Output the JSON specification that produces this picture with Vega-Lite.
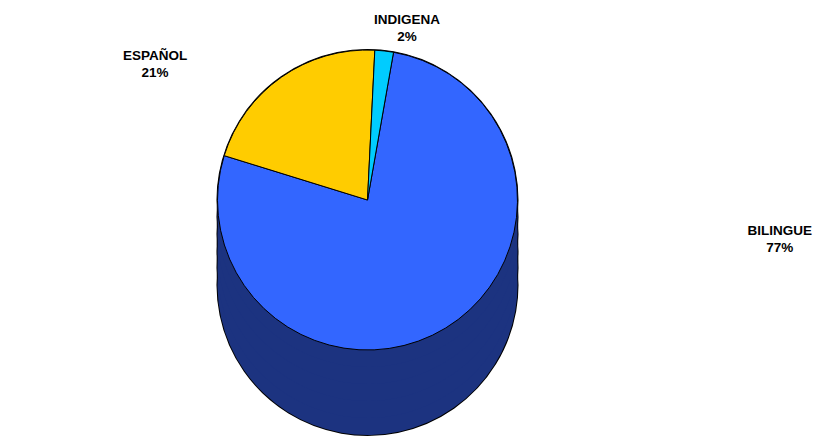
{
  "$schema": "https://vega.github.io/schema/vega-lite/v6.json",
  "width": 815,
  "height": 448,
  "autosize": {"type": "none"},
  "padding": 0,
  "background": "#ffffff",
  "config": {"view": {"stroke": null}, "font": "Liberation Sans"},
  "data": {
    "values": [
      {"category": "BILINGUE", "value": 77, "label": "BILINGUE\n77%"},
      {"category": "ESPAÑOL", "value": 21, "label": "ESPAÑOL\n21%"},
      {"category": "INDIGENA", "value": 2, "label": "INDIGENA\n2%"}
    ]
  },
  "resolve": {"scale": {"theta": "shared"}},
  "layer": [
    {
      "transform": [{"aggregate": [{"op": "sum", "field": "value", "as": "value"}]}],
      "layer": [
        {"mark": {"type": "arc", "radius": 150, "xOffset": -40, "yOffset": 61, "fill": "#1C3380", "stroke": "#000000", "strokeWidth": 2}},
        {"mark": {"type": "arc", "radius": 150, "xOffset": -40, "yOffset": 44, "fill": "#1C3380", "stroke": "#000000", "strokeWidth": 2}},
        {"mark": {"type": "arc", "radius": 150, "xOffset": -40, "yOffset": 27, "fill": "#1C3380", "stroke": "#000000", "strokeWidth": 2}},
        {"mark": {"type": "arc", "radius": 150, "xOffset": -40, "yOffset": 10, "fill": "#1C3380", "stroke": "#000000", "strokeWidth": 2}},
        {"mark": {"type": "arc", "radius": 150, "xOffset": -40, "yOffset": -7, "fill": "#1C3380", "stroke": "#000000", "strokeWidth": 2}},
        {"mark": {"type": "arc", "radius": 150, "xOffset": -40, "yOffset": -24, "fill": "#1C3380", "stroke": "#000000", "strokeWidth": 2}},
        {"mark": {"type": "arc", "radius": 150, "xOffset": -40, "yOffset": 61, "fill": "#1C3380", "strokeWidth": 0}},
        {"mark": {"type": "arc", "radius": 150, "xOffset": -40, "yOffset": 44, "fill": "#1C3380", "strokeWidth": 0}},
        {"mark": {"type": "arc", "radius": 150, "xOffset": -40, "yOffset": 27, "fill": "#1C3380", "strokeWidth": 0}},
        {"mark": {"type": "arc", "radius": 150, "xOffset": -40, "yOffset": 10, "fill": "#1C3380", "strokeWidth": 0}},
        {"mark": {"type": "arc", "radius": 150, "xOffset": -40, "yOffset": -7, "fill": "#1C3380", "strokeWidth": 0}},
        {"mark": {"type": "arc", "radius": 150, "xOffset": -40, "yOffset": -24, "fill": "#1C3380", "strokeWidth": 0}}
      ],
      "encoding": {
        "theta": {"field": "value", "type": "quantitative", "stack": true, "scale": {"range": [0.1745, 6.4577]}}
      }
    },
    {
      "mark": {"type": "arc", "radius": 150, "xOffset": -40, "yOffset": -24, "stroke": "#000000", "strokeWidth": 1},
      "encoding": {
        "theta": {"field": "value", "type": "quantitative", "stack": true, "scale": {"range": [0.1745, 6.4577]}},
        "order": {"field": "category", "type": "ordinal", "sort": "ascending"},
        "color": {
          "field": "category",
          "type": "nominal",
          "legend": null,
          "scale": {"domain": ["BILINGUE", "ESPAÑOL", "INDIGENA"], "range": ["#3366FF", "#FFCC00", "#00CCFF"]}
        }
      }
    },
    {
      "mark": {"type": "text", "radius": 174, "xOffset": -40, "yOffset": -24, "dx": 20, "dy": -7, "font": "Liberation Sans", "fontWeight": "bold", "fontSize": 13.5, "lineHeight": 17, "lineBreak": "\n", "align": "center", "baseline": "middle", "color": "#000000"},
      "encoding": {
        "theta": {"field": "value", "type": "quantitative", "stack": true, "scale": {"range": [0.1745, 6.4577]}},
        "order": {"field": "category", "type": "ordinal", "sort": "ascending"},
        "text": {"condition": {"test": "datum.category === 'INDIGENA'", "field": "label", "type": "nominal"}, "value": ""}
      }
    },
    {
      "mark": {"type": "text", "radius": 175, "xOffset": -40, "yOffset": -24, "dx": -112, "dy": -1, "font": "Liberation Sans", "fontWeight": "bold", "fontSize": 13.5, "lineHeight": 17, "lineBreak": "\n", "align": "center", "baseline": "middle", "color": "#000000"},
      "encoding": {
        "theta": {"field": "value", "type": "quantitative", "stack": true, "scale": {"range": [0.1745, 6.4577]}},
        "order": {"field": "category", "type": "ordinal", "sort": "ascending"},
        "text": {"condition": {"test": "datum.category === 'ESPAÑOL'", "field": "label", "type": "nominal"}, "value": ""}
      }
    },
    {
      "mark": {"type": "text", "radius": 175, "xOffset": -40, "yOffset": -24, "dx": 321, "dy": -118, "font": "Liberation Sans", "fontWeight": "bold", "fontSize": 13.5, "lineHeight": 17, "lineBreak": "\n", "align": "center", "baseline": "middle", "color": "#000000"},
      "encoding": {
        "theta": {"field": "value", "type": "quantitative", "stack": true, "scale": {"range": [0.1745, 6.4577]}},
        "order": {"field": "category", "type": "ordinal", "sort": "ascending"},
        "text": {"condition": {"test": "datum.category === 'BILINGUE'", "field": "label", "type": "nominal"}, "value": ""}
      }
    }
  ]
}
